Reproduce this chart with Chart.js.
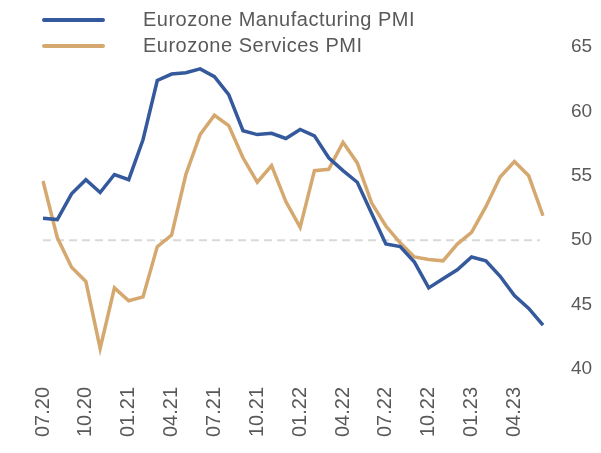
<!DOCTYPE html>
<html>
<head>
<meta charset="utf-8">
<script src="https://cdn.jsdelivr.net/npm/chart.js@4"></script>
<style>
    html, body { margin: 0; padding: 0; background: #fff; }
    #wrap { width: 601px; height: 453px; }
</style>
</head>
<body>
<div id="wrap"><canvas id="pmiChart"></canvas></div>
<script>
// == Data ==
const months = [
    "07.20", "08.20", "09.20", "10.20", "11.20", "12.20",
    "01.21", "02.21", "03.21", "04.21", "05.21", "06.21",
    "07.21", "08.21", "09.21", "10.21", "11.21", "12.21",
    "01.22", "02.22", "03.22", "04.22", "05.22", "06.22",
    "07.22", "08.22", "09.22", "10.22", "11.22", "12.22",
    "01.23", "02.23", "03.23", "04.23", "05.23", "06.23"
];
const tickLabels = ["07.20", "10.20", "01.21", "04.21", "07.21", "10.21", "01.22", "04.22", "07.22", "10.22", "01.23", "04.23"];
const manufacturing = [
    51.7, 51.6, 53.6, 54.7, 53.7, 55.1,
    54.7, 57.8, 62.4, 62.9, 63.0, 63.3,
    62.7, 61.3, 58.5, 58.2, 58.3, 57.9,
    58.6, 58.1, 56.4, 55.4, 54.5, 52.1,
    49.7, 49.5, 48.3, 46.3, 47.0, 47.7,
    48.7, 48.4, 47.2, 45.7, 44.7, 43.4
];
const services = [
    54.6, 50.2, 47.9, 46.8, 41.6, 46.3,
    45.3, 45.6, 49.5, 50.4, 55.1, 58.2,
    59.7, 58.9, 56.4, 54.5, 55.8, 53.0,
    51.0, 55.4, 55.5, 57.6, 56.0, 52.9,
    51.1, 49.8, 48.7, 48.5, 48.4, 49.7,
    50.6, 52.6, 54.9, 56.1, 55.0, 51.9
];
const seriesNames = ["Eurozone Manufacturing PMI", "Eurozone Services PMI"];
const threshold = 50;

// == Styles ==
const blue = '#34599c';
const gold = '#d5a86f';
const textColor = '#595959';
const fontFamily = '"Liberation Sans", Arial, sans-serif';

// dashed 50 line + legend drawn by hand
const extras = {
    id: 'extras',
    beforeDatasetsDraw(chart) {
        const { ctx, chartArea, scales } = chart;
        const y = scales.y.getPixelForValue(threshold);
        ctx.save();
        ctx.strokeStyle = '#d9d9d9';
        ctx.lineWidth = 2;
        ctx.setLineDash([8, 5]);
        ctx.beginPath();
        ctx.moveTo(chartArea.left, y);
        ctx.lineTo(chartArea.right - 3, y);
        ctx.stroke();
        ctx.restore();
    },
    afterDraw(chart) {
        const { ctx } = chart;
        ctx.save();
        chart.data.datasets.forEach((ds, i) => {
            const y = 20 + i * 26;
            ctx.strokeStyle = ds.borderColor;
            ctx.lineWidth = 4;
            ctx.lineCap = 'round';
            ctx.beginPath();
            ctx.moveTo(44, y);
            ctx.lineTo(103, y);
            ctx.stroke();
            ctx.fillStyle = textColor;
            ctx.font = '20px ' + fontFamily;
            ctx.letterSpacing = '0.5px';
            ctx.textBaseline = 'middle';
            ctx.fillText(ds.label, 143, y);
        });
        ctx.restore();
    }
};

new Chart(document.getElementById('pmiChart'), {
    type: 'line',
    plugins: [extras],
    data: {
        labels: months,
        datasets: [
            {
                label: seriesNames[0],
                data: manufacturing,
                borderColor: blue,
                borderWidth: 3.5,
                pointRadius: 0,
                tension: 0
            },
            {
                label: seriesNames[1],
                data: services,
                borderColor: gold,
                borderWidth: 3.5,
                pointRadius: 0,
                tension: 0
            }
        ]
    },
    options: {
        responsive: true,
        maintainAspectRatio: false,
        animation: false,
        layout: { padding: { top: 47, left: 43, right: 0, bottom: 0 } },
        plugins: {
            legend: { display: false },
            tooltip: { enabled: false }
        },
        scales: {
            x: {
                offset: false,
                grid: { display: false },
                border: { display: false },
                afterFit: scale => { scale.height = 84; },
                ticks: {
                    autoSkip: false,
                    minRotation: 90,
                    maxRotation: 90,
                    padding: 10,
                    color: textColor,
                    font: { family: fontFamily, size: 20 },
                    callback: function (value) {
                        const label = this.getLabelForValue(value);
                        return tickLabels.includes(label) ? label : '';
                    }
                }
            },
            y: {
                position: 'right',
                min: 40,
                max: 65,
                grid: { display: false },
                border: { display: false },
                afterFit: scale => { scale.width = 58; },
                ticks: {
                    stepSize: 5,
                    padding: 20,
                    color: textColor,
                    font: { family: fontFamily, size: 19 }
                }
            }
        }
    }
});
</script>
</body>
</html>
